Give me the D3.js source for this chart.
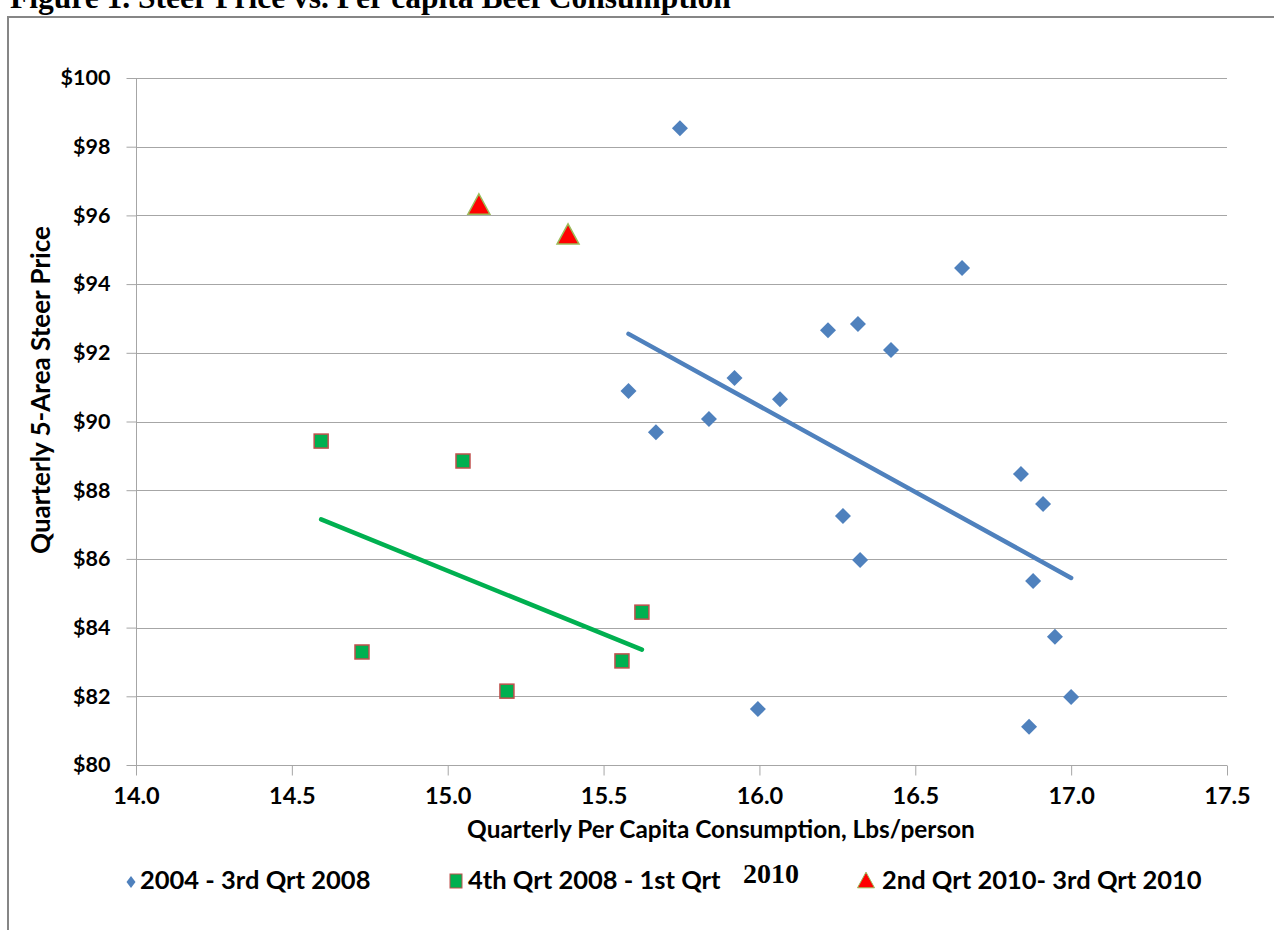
<!DOCTYPE html>
<html>
<head>
<meta charset="utf-8">
<script src="https://cdn.jsdelivr.net/npm/d3@7"></script>
<style>
  html, body { margin: 0; padding: 0; background: #fff; }
  svg { display: block; }
</style>
</head>
<body>
<svg id="chart" width="1274" height="930"></svg>
<script>
// ---------------- data ----------------
const seriesNames = ["2004 - 3rd Qrt 2008", "4th Qrt 2008 - 1st Qrt", "2nd Qrt 2010- 3rd Qrt 2010"];
const legendExtra = "2010";
const titleText = "Figure 1. Steer Price vs. Per capita Beef Consumption";
const xTitle = "Quarterly Per Capita Consumption, Lbs/person";
const yTitle = "Quarterly 5-Area Steer Price";

// 2004 - 3rd Qrt 2008 (blue diamonds)
const blueX = [15.745, 16.65, 16.22, 16.316, 16.422, 15.58, 15.92, 16.066, 15.668, 15.838,
               16.839, 16.91, 16.268, 16.323, 16.878, 16.948, 17.0, 15.995, 16.865];
const blueY = [98.54, 94.47, 92.66, 92.84, 92.08, 90.89, 91.27, 90.65, 89.69, 90.07,
               88.47, 87.60, 87.25, 85.97, 85.36, 83.73, 81.98, 81.63, 81.11];
// 4th Qrt 2008 - 1st Qrt 2010 (green squares)
const greenX = [14.594, 15.049, 15.623, 14.725, 15.559, 15.19];
const greenY = [89.43, 88.85, 84.45, 83.29, 83.03, 82.15];
// 2nd Qrt 2010 - 3rd Qrt 2010 (red triangles)
const redX = [15.10, 15.386];
const redY = [96.33, 95.46];

const xTicks = [14.0, 14.5, 15.0, 15.5, 16.0, 16.5, 17.0, 17.5];
const yTicks = [80, 82, 84, 86, 88, 90, 92, 94, 96, 98, 100];

// ---------------- layout ----------------
const svg = d3.select("#chart");
const L = 136, R = 1227, T = 78, B = 765;
const x = d3.scaleLinear().domain([14, 17.5]).range([L, R]);
const y = d3.scaleLinear().domain([80, 100]).range([B, T]);

const FONT = "Lato, 'Open Sans', sans-serif";
const SERIF = "'Liberation Serif', 'Times New Roman', serif";
const gridColor = "#a6a6a6";
const blue = "#4F81BD", green = "#00B050", greenEdge = "#C0504D", red = "#FF0000", redEdge = "#9BBB59";

// clipped figure title at top
svg.append("text")
  .attr("x", 10).attr("y", 8)
  .attr("font-family", SERIF)
  .attr("font-weight", "bold").attr("font-size", 31.5)
  .text(titleText);

// chart frame
svg.append("path")
  .attr("d", "M8,940 V17 H1290")
  .attr("fill", "none").attr("stroke", "#868686").attr("stroke-width", 2);

// gridlines
svg.append("g").selectAll("line").data(yTicks).join("line")
  .attr("x1", L).attr("x2", R)
  .attr("y1", d => Math.round(y(d)) + 0.5).attr("y2", d => Math.round(y(d)) + 0.5)
  .attr("stroke", gridColor).attr("stroke-width", 1);

// y axis
const yAxis = d3.axisLeft(y).tickValues(yTicks).tickSize(10).tickPadding(16)
  .tickFormat(d => "$" + d);
const gy = svg.append("g").attr("transform", `translate(${L + 0.5},0)`).call(yAxis);
gy.select(".domain").attr("stroke", gridColor).attr("d", `M0,${T}V${B}`);
gy.selectAll(".tick line").attr("stroke", gridColor);
gy.selectAll(".tick text").attr("font-family", FONT).attr("font-weight", "bold")
  .attr("font-size", 21.5).attr("fill", "#000");

// x axis
const xAxis = d3.axisBottom(x).tickValues(xTicks).tickSize(10).tickPadding(12)
  .tickFormat(d3.format(".1f"));
const gx = svg.append("g").attr("transform", `translate(0,${Math.round(B) + 0.5})`).call(xAxis);
gx.select(".domain").attr("stroke", gridColor).attr("d", `M${L},0H${R}`);
gx.selectAll(".tick line").attr("stroke", gridColor);
gx.selectAll(".tick text").attr("font-family", FONT).attr("font-weight", "bold")
  .attr("font-size", 23.5).attr("fill", "#000");

// axis titles
svg.append("text")
  .attr("x", 721).attr("y", 838).attr("text-anchor", "middle")
  .attr("font-family", FONT).attr("font-weight", "bold").attr("font-size", 24.4)
  .text(xTitle);
svg.append("text")
  .attr("transform", "translate(50,390) rotate(-90)").attr("text-anchor", "middle")
  .attr("font-family", FONT).attr("font-weight", "bold").attr("font-size", 26)
  .text(yTitle);

// regression helper (linear trendline from the data)
function fit(xs, ys) {
  const mx = d3.mean(xs), my = d3.mean(ys);
  let sxy = 0, sxx = 0;
  xs.forEach((v, i) => { sxy += (v - mx) * (ys[i] - my); sxx += (v - mx) * (v - mx); });
  const b = sxy / sxx, a = my - b * mx;
  const [x0, x1] = d3.extent(xs);
  return [[x0, a + b * x0], [x1, a + b * x1]];
}
const line = d3.line().x(d => x(d[0])).y(d => y(d[1]));

// markers
const diamondSym = { draw(ctx, size) { const r = Math.sqrt(size) / 2;
  ctx.moveTo(0, -r); ctx.lineTo(r, 0); ctx.lineTo(0, r); ctx.lineTo(-r, 0); ctx.closePath(); } };
const narrowDiamond = { draw(ctx, size) { const r = Math.sqrt(size) / 2; const w = r * 0.75;
  ctx.moveTo(0, -r); ctx.lineTo(w, 0); ctx.lineTo(0, r); ctx.lineTo(-w, 0); ctx.closePath(); } };
const triSym = { draw(ctx, size) { const w = Math.sqrt(size); const h = w * 0.92;
  ctx.moveTo(0, -h / 2); ctx.lineTo(w / 2, h / 2); ctx.lineTo(-w / 2, h / 2); ctx.closePath(); } };

const blueData = blueX.map((v, i) => [v, blueY[i]]);
const greenData = greenX.map((v, i) => [v, greenY[i]]);
const redData = redX.map((v, i) => [v, redY[i]]);

svg.append("g").selectAll("path").data(blueData).join("path")
  .attr("transform", d => `translate(${x(d[0])},${y(d[1])})`)
  .attr("d", d3.symbol(diamondSym, 16 * 16))
  .attr("fill", blue);

svg.append("g").selectAll("rect").data(greenData).join("rect")
  .attr("x", d => x(d[0]) - 7).attr("y", d => y(d[1]) - 7)
  .attr("width", 14).attr("height", 14)
  .attr("fill", green).attr("stroke", greenEdge).attr("stroke-width", 1.5);

svg.append("g").selectAll("path").data(redData).join("path")
  .attr("transform", d => `translate(${x(d[0])},${y(d[1])})`)
  .attr("d", d3.symbol(triSym, 22 * 22))
  .attr("fill", red).attr("stroke", redEdge).attr("stroke-width", 1.5);

// trendlines
svg.append("path").datum(fit(blueX, blueY)).attr("d", line)
  .attr("fill", "none").attr("stroke", blue).attr("stroke-width", 4.5).attr("stroke-linecap", "round");
svg.append("path").datum(fit(greenX, greenY)).attr("d", line)
  .attr("fill", "none").attr("stroke", green).attr("stroke-width", 4.5).attr("stroke-linecap", "round");

// legend
const lg = svg.append("g").attr("font-family", FONT).attr("font-weight", "bold").attr("font-size", 25.5);
lg.append("path").attr("transform", "translate(131,882)").attr("d", d3.symbol(narrowDiamond, 12 * 12)).attr("fill", blue);
lg.append("text").attr("x", 140).attr("y", 889).text(seriesNames[0]);
lg.append("rect").attr("x", 450).attr("y", 874).attr("width", 12).attr("height", 14)
  .attr("fill", green).attr("stroke", greenEdge).attr("stroke-width", 1);
lg.append("text").attr("x", 468).attr("y", 889).text(seriesNames[1]);
lg.append("text").attr("x", 743).attr("y", 883)
  .attr("font-family", SERIF).attr("font-size", 28)
  .text(legendExtra);
lg.append("path").attr("transform", "translate(866,880)").attr("d", d3.symbol(triSym, 17 * 17))
  .attr("fill", red).attr("stroke", redEdge).attr("stroke-width", 1);
lg.append("text").attr("x", 882).attr("y", 889).text(seriesNames[2]);
</script>
</body>
</html>
